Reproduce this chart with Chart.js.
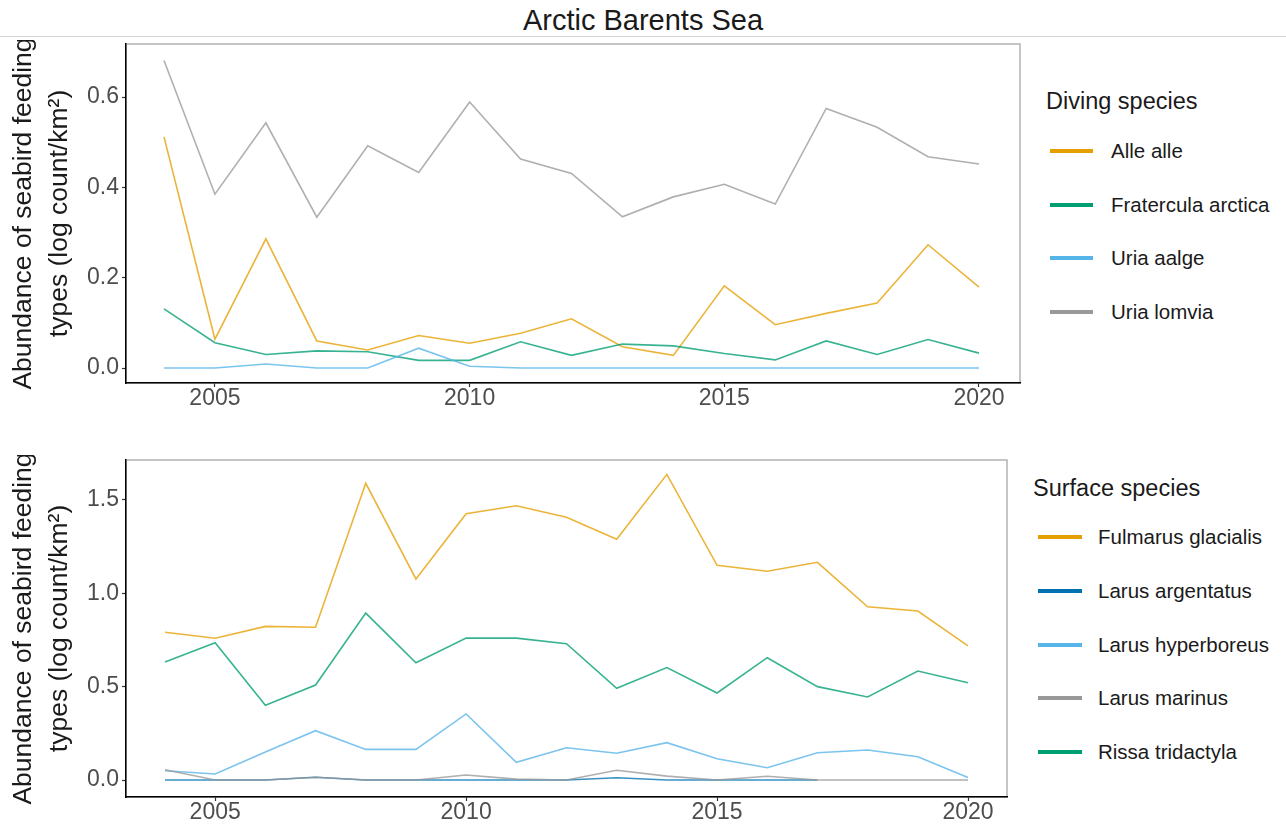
<!DOCTYPE html>
<html>
<head>
<meta charset="utf-8">
<title>Arctic Barents Sea</title>
<script src="https://cdn.jsdelivr.net/npm/chart.js@4.4.1/dist/chart.umd.min.js"></script>
<style>
  body { margin: 0; width: 1286px; height: 828px; background: #fff; position: relative; overflow: hidden;
         font-family: "Liberation Sans", Arial, sans-serif; color: #1a1a1a; }
  #title { position: absolute; top: 3px; left: 0; width: 1286px; text-align: center; font-size: 29px; line-height: 34px; }
  #rule { position: absolute; top: 36px; left: 0; width: 1286px; height: 1px; background: #d4d4d4; }
  .box { position: absolute; }
  .legend { position: absolute; }
  .legend .head { position: absolute; white-space: nowrap; font-size: 23.5px; line-height: 28px; }
  .legend .key { position: absolute; height: 4px; }
  .legend .lab { position: absolute; white-space: nowrap; font-size: 20.5px; line-height: 24px; }
</style>
</head>
<body>
<div id="title">Arctic Barents Sea</div>
<div id="rule"></div>
<div class="box" style="left:0;top:40px;width:1022px;height:380px"><canvas id="diving"></canvas></div>
<div class="box" style="left:0;top:455px;width:1010px;height:373px"><canvas id="surface"></canvas></div>
<div class="legend" id="divingLegend"></div>
<div class="legend" id="surfaceLegend"></div>
<script>
const years = [2004, 2005, 2006, 2007, 2008, 2009, 2010, 2011, 2012, 2013, 2014, 2015, 2016, 2017, 2018, 2019, 2020];
const xTicks = [2005, 2010, 2015, 2020];

// diving species
const divingNames = ['Alle alle', 'Fratercula arctica', 'Uria aalge', 'Uria lomvia'];
const alleAlle   = [0.512, 0.064, 0.286, 0.060, 0.040, 0.072, 0.055, 0.077, 0.109, 0.047, 0.028, 0.182, 0.096, 0.121, 0.144, 0.273, 0.179];
const fratercula = [0.131, 0.056, 0.030, 0.038, 0.036, 0.017, 0.017, 0.058, 0.028, 0.053, 0.049, 0.032, 0.018, 0.060, 0.030, 0.063, 0.033];
const uriaAalge  = [0, 0, 0.009, 0, 0, 0.044, 0.004, 0, 0, 0, 0, 0, 0, 0, 0, 0, 0];
const uriaLomvia = [0.681, 0.385, 0.543, 0.334, 0.492, 0.433, 0.589, 0.463, 0.431, 0.335, 0.379, 0.407, 0.363, 0.575, 0.533, 0.468, 0.452];
const divingTicks = [0, 0.2, 0.4, 0.6];

// surface species
const surfaceNames = ['Fulmarus glacialis', 'Larus argentatus', 'Larus hyperboreus', 'Larus marinus', 'Rissa tridactyla'];
const fulmarus    = [0.791, 0.759, 0.823, 0.818, 1.589, 1.077, 1.426, 1.469, 1.407, 1.289, 1.637, 1.150, 1.118, 1.166, 0.928, 0.905, 0.718];
const argentatus  = [0, 0, 0, 0.015, 0, 0, 0, 0, 0, 0.012, 0, 0, 0, 0, null, null, null];
const hyperboreus = [0.050, 0.032, 0.150, 0.264, 0.164, 0.164, 0.354, 0.095, 0.173, 0.143, 0.200, 0.114, 0.066, 0.146, 0.161, 0.125, 0.014];
const marinus     = [0.055, 0, 0, 0.015, 0, 0, 0.027, 0.005, 0, 0.052, 0.021, 0, 0.020, 0, 0, 0, 0];
const rissa       = [0.632, 0.735, 0.400, 0.509, 0.894, 0.628, 0.760, 0.760, 0.730, 0.491, 0.602, 0.466, 0.655, 0.500, 0.445, 0.584, 0.521];
const surfaceTicks = [0, 0.5, 1.0, 1.5];

const ORANGE = [230, 159, 0], GREEN = [0, 158, 115], SKY = [86, 180, 233], GREY = [153, 153, 153], BLUE = [0, 114, 178];
const rgb = (c, a) => `rgba(${c[0]},${c[1]},${c[2]},${a})`;

function series(label, values, col, i) {
    return {
        label: label,
        data: years.map((y, k) => ({ x: y, y: values[k] })),
        borderColor: rgb(col, 0.78),
        borderWidth: 1.6,
        pointRadius: 0,
        tension: 0,
        fill: false,
        spanGaps: false,
        order: -i
    };
}

// gray panel border, axes drawn over it in black
const panelBorder = {
    id: 'panelBorder',
    beforeDraw(chart) {
        const a = chart.chartArea, ctx = chart.ctx;
        ctx.save();
        ctx.strokeStyle = '#b3b3b3';
        ctx.lineWidth = 1.5;
        ctx.strokeRect(a.left, a.top, a.right - a.left, a.bottom - a.top);
        ctx.restore();
    }
};

const tickFont = { family: 'Liberation Sans', size: 23, lineHeight: 1.0 };

function options(xr, yr, yTicks, pad, xHeight) {
    return {
        responsive: true,
        maintainAspectRatio: false,
        animation: false,
        layout: { padding: pad },
        plugins: { legend: { display: false }, tooltip: { enabled: false } },
        scales: {
            x: {
                type: 'linear', min: xr[0], max: xr[1],
                afterBuildTicks: s => { s.ticks = xTicks.map(v => ({ value: v })); },
                afterFit: s => { s.height = xHeight; s.paddingLeft = 0; s.paddingRight = 0; },
                ticks: { color: '#4d4d4d', font: tickFont, padding: 0, maxRotation: 0, callback: v => String(v) },
                grid: { display: true, drawOnChartArea: false, drawTicks: true, tickLength: 4, tickColor: '#333', tickWidth: 1.2 },
                border: { display: true, color: '#000', width: 1.5 }
            },
            y: {
                min: yr[0], max: yr[1],
                afterBuildTicks: s => { s.ticks = yTicks.map(v => ({ value: v })); },
                afterFit: s => { s.width = 126; s.paddingTop = 0; s.paddingBottom = 0; },
                ticks: { color: '#4d4d4d', font: tickFont, padding: 3, callback: v => v.toFixed(1) },
                grid: { display: true, drawOnChartArea: false, drawTicks: true, tickLength: 4, tickColor: '#333', tickWidth: 1.2 },
                border: { display: true, color: '#000', width: 1.5 },
                title: {
                    display: true,
                    text: ['Abundance of seabird feeding', 'types (log count/km²)'],
                    color: '#1a1a1a',
                    font: { family: 'Liberation Sans', size: 26.5, lineHeight: 1.36 },
                    padding: { top: 6, bottom: 0 }
                }
            }
        }
    };
}

const divingColors = [ORANGE, GREEN, SKY, GREY];
const divingValues = [alleAlle, fratercula, uriaAalge, uriaLomvia];
new Chart(document.getElementById('diving'), {
    type: 'line',
    data: { datasets: divingNames.map((n, i) => series(n, divingValues[i], divingColors[i], i)) },
    options: options([2003.254, 2020.805], [-0.0332, 0.7176], divingTicks, { top: 4, right: 2, left: 0, bottom: 0 }, 37),
    plugins: [panelBorder]
});

const surfaceColors = [ORANGE, BLUE, SKY, GREY, GREEN];
const surfaceValues = [fulmarus, argentatus, hyperboreus, marinus, rissa];
new Chart(document.getElementById('surface'), {
    type: 'line',
    data: { datasets: surfaceNames.map((n, i) => series(n, surfaceValues[i], surfaceColors[i], i)) },
    options: options([2003.223, 2020.777], [-0.091, 1.714], surfaceTicks, { top: 5, right: 3, left: 0, bottom: 0 }, 31),
    plugins: [panelBorder]
});

// legends as html
function legend(el, head, names, colors, L) {
    let html = `<div class="head" style="left:${L.headX}px;top:${L.headY - 14}px">${head}</div>`;
    names.forEach((n, i) => {
        const cy = L.y0 + i * L.dy;
        html += `<div class="key" style="left:${L.keyX}px;top:${cy - 2}px;width:${L.keyW}px;background:${rgb(colors[i], 1)}"></div>`;
        html += `<div class="lab" style="left:${L.labX}px;top:${cy - 12}px">${n}</div>`;
    });
    document.getElementById(el).innerHTML = html;
}
legend('divingLegend', 'Diving species', divingNames, divingColors,
    { headX: 1046, headY: 101, keyX: 1050, keyW: 43, labX: 1111, y0: 151, dy: 53.7 });
legend('surfaceLegend', 'Surface species', surfaceNames, surfaceColors,
    { headX: 1033, headY: 488, keyX: 1038, keyW: 44, labX: 1098, y0: 537, dy: 53.8 });
</script>
</body>
</html>
